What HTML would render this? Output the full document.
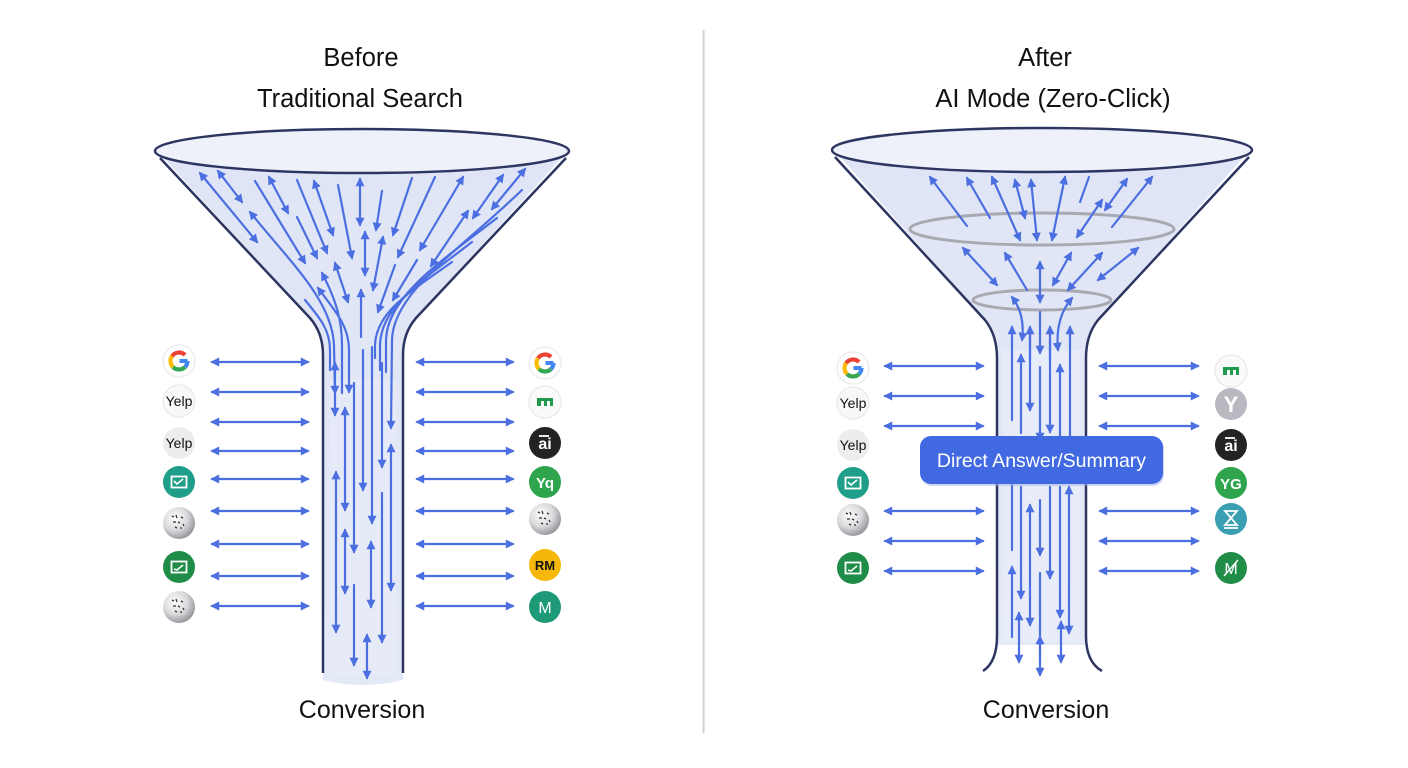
<!DOCTYPE html>
<html><head><meta charset="utf-8">
<style>
html,body{margin:0;padding:0;background:#fff;}
svg{display:block;}
.t{font-family:"Liberation Sans",sans-serif;fill:#111;text-anchor:middle;}
.a{stroke:#4b6fe0;stroke-width:2.2;fill:none;stroke-linecap:round;}
.d{marker-start:url(#m);marker-end:url(#m);}
.e{marker-end:url(#m);}
.s{marker-start:url(#m);}
.fw{stroke:#2d3561;stroke-width:2.5;fill:none;}
</style></head><body>
<svg width="1408" height="768" viewBox="0 0 1408 768" xmlns="http://www.w3.org/2000/svg">
<defs>
<marker id="m" viewBox="0 0 10 10" refX="8" refY="5" markerWidth="10" markerHeight="9" markerUnits="userSpaceOnUse" orient="auto-start-reverse"><path d="M0,0 L10,5 L0,10 z" fill="#4b6fe0"/></marker>
<linearGradient id="fg" x1="0" y1="0" x2="0" y2="1"><stop offset="0" stop-color="#dfe5f6"/><stop offset="1" stop-color="#e4e9f7"/></linearGradient>
<radialGradient id="ws" cx="0.38" cy="0.35" r="0.7"><stop offset="0" stop-color="#ffffff"/><stop offset="0.55" stop-color="#d9d9dc"/><stop offset="1" stop-color="#8e8e94"/></radialGradient>
<g id="gg">
<circle r="16" fill="#fff" stroke="#eeeeee" stroke-width="1.5"/>
<path d="M0.5,0 H8.5" stroke="#4285f4" stroke-width="4" fill="none"/>
<path d="M8.5,0 A8.5,8.5 0 0 1 6.01,6.01" stroke="#4285f4" stroke-width="4.2" fill="none"/>
<path d="M6.01,6.01 A8.5,8.5 0 0 1 -6.01,6.01" stroke="#34a853" stroke-width="4.2" fill="none"/>
<path d="M-6.01,6.01 A8.5,8.5 0 0 1 -6.96,-4.88" stroke="#fbbc05" stroke-width="4.2" fill="none"/>
<path d="M-6.96,-4.88 A8.5,8.5 0 0 1 6.01,-6.01" stroke="#ea4335" stroke-width="4.2" fill="none"/>
</g>
<g id="wk">
<circle r="16" fill="url(#ws)"/>
<path d="M-7,-7 l2,1 M-3,-8 l1,3 M2,-6 l2,1 M-6,-1 l3,0 M-1,-1 l2,1 M4,1 l1,2 M-4,4 l2,1 M1,5 l2,0" stroke="#333" stroke-width="1.3" fill="none"/>
</g>
<g id="yw"><circle r="16" fill="#f8f8f8" stroke="#ececec" stroke-width="1.5"/><text y="5" class="t" style="font-size:14px;fill:#111">Yelp</text></g>
<g id="yg"><circle r="16" fill="#ededed"/><text y="5" class="t" style="font-size:14px;fill:#111">Yelp</text></g>
<g id="tl"><circle r="16" fill="#1f9e89"/><rect x="-7.5" y="-5.5" width="15" height="11" fill="none" stroke="#fff" stroke-width="1.8"/><path d="M-5,-1 l3,3 l6,-5" stroke="#fff" stroke-width="1.6" fill="none"/></g>
<g id="gr"><circle r="16" fill="#1f8c48"/><rect x="-7.5" y="-5.5" width="15" height="11" fill="none" stroke="#fff" stroke-width="1.8"/><path d="M-5,2 l3,1 l6,-5" stroke="#fff" stroke-width="1.6" fill="none"/></g>
<g id="gm"><circle r="16" fill="#fafafa" stroke="#ececec" stroke-width="1.5"/><path d="M-8,-4 h16 v8 h-3 v-5 h-3 v5 h-3 v-5 h-3 v5 h-4 z" fill="#1e9a4a"/></g>
<g id="dk"><circle r="16" fill="#232323"/><text y="6" class="t" style="font-size:16px;font-weight:bold;fill:#fff">ai</text><path d="M-6,-7 h10" stroke="#fff" stroke-width="1.8"/></g>
<g id="yq"><circle r="16" fill="#2ea54d"/><text y="6" class="t" style="font-size:15px;font-weight:bold;fill:#fff">Yq</text></g>
</defs>

<!-- divider -->
<line x1="703.5" y1="30" x2="703.5" y2="733" stroke="#cfd3da" stroke-width="2"/>

<!-- titles -->
<text x="361" y="66" class="t" style="font-size:25.5px">Before</text>
<text x="360" y="107" class="t" style="font-size:25.5px">Traditional Search</text>
<text x="1045" y="66" class="t" style="font-size:25.5px">After</text>
<text x="1053" y="107" class="t" style="font-size:25.5px">AI Mode (Zero-Click)</text>
<text x="362" y="718" class="t" style="font-size:25px">Conversion</text>
<text x="1046" y="718" class="t" style="font-size:25px">Conversion</text>

<!-- LEFT FUNNEL -->
<path d="M158,152 L310,318 Q323,333 323,355 L323,680 Q363,690 403,680 L403,355 Q403,333 416,318 L567,152 Z" fill="url(#fg)"/>
<rect x="330" y="380" width="66" height="295" fill="#e9edf9" opacity="0.6"/>
<ellipse cx="362" cy="151" rx="207" ry="22" class="fw" style="fill:#eef1fa"/>
<path class="fw" d="M160,158 L310,318 Q323,333 323,355 L323,673"/>
<path class="fw" d="M566,158 L416,318 Q403,333 403,355 L403,673"/>

<!-- left cone arrows -->
<line class="a d" x1="200" y1="173" x2="257" y2="242"/>
<line class="a d" x1="218" y1="171" x2="242" y2="202"/>
<line class="a e" x1="255" y1="181" x2="305" y2="263"/>
<line class="a d" x1="269" y1="177" x2="288" y2="213"/>
<line class="a e" x1="297" y1="180" x2="327" y2="253"/>
<line class="a e" x1="297" y1="217" x2="317" y2="258"/>
<line class="a d" x1="314" y1="181" x2="333" y2="235"/>
<line class="a e" x1="338" y1="185" x2="352" y2="258"/>
<line class="a d" x1="360" y1="179" x2="360" y2="225"/>
<line class="a e" x1="382" y1="191" x2="376" y2="230"/>
<line class="a d" x1="365" y1="232" x2="365" y2="275"/>
<line class="a d" x1="383" y1="237" x2="373" y2="290"/>
<line class="a e" x1="412" y1="178" x2="393" y2="235"/>
<line class="a e" x1="435" y1="177" x2="398" y2="257"/>
<line class="a d" x1="463" y1="177" x2="420" y2="250"/>
<line class="a d" x1="503" y1="175" x2="473" y2="218"/>
<line class="a d" x1="525" y1="169" x2="492" y2="209"/>
<line class="a d" x1="468" y1="211" x2="431" y2="266"/>
<line class="a d" x1="335" y1="263" x2="348" y2="302"/>
<line class="a e" x1="417" y1="260" x2="393" y2="300"/>
<line class="a e" x1="395" y1="265" x2="378" y2="312"/>
<line class="a e" x1="361" y1="337" x2="361" y2="290"/>
<!-- left streamlines -->
<path class="a d" d="M250,212 C290,262 332,300 334,345 L335,393"/>
<path class="a s" d="M322,273 C336,300 342,320 342,345 L342,393"/>
<path class="a d" d="M318,288 C336,312 349,326 349,350 L349,392"/>
<path class="a" d="M305,300 C320,318 330,330 330,350 L330,370"/>
<path class="a e" d="M522,190 C460,250 393,292 392,340 L391,428"/>
<path class="a" d="M497,218 C440,262 387,297 386,340 L386,372"/>
<path class="a" d="M472,242 C420,282 381,307 380,345 L380,370"/>
<path class="a" d="M452,262 C410,292 376,312 375,345 L375,358"/>
<!-- left neck arrows -->
<line class="a d" x1="335" y1="363" x2="335" y2="415"/>
<line class="a d" x1="345" y1="408" x2="345" y2="510"/>
<line class="a e" x1="354" y1="383" x2="354" y2="552"/>
<line class="a e" x1="363" y1="350" x2="363" y2="490"/>
<line class="a e" x1="372" y1="347" x2="372" y2="523"/>
<line class="a e" x1="382" y1="363" x2="382" y2="467"/>
<line class="a d" x1="391" y1="445" x2="391" y2="590"/>
<line class="a d" x1="336" y1="472" x2="336" y2="632"/>
<line class="a d" x1="345" y1="530" x2="345" y2="593"/>
<line class="a e" x1="354" y1="585" x2="354" y2="665"/>
<line class="a d" x1="367" y1="635" x2="367" y2="678"/>
<line class="a d" x1="371" y1="542" x2="371" y2="607"/>
<line class="a e" x1="382" y1="493" x2="382" y2="642"/>

<!-- left horizontal arrows -->
<g class="a d">
<line x1="212" y1="362" x2="308" y2="362"/><line x1="417" y1="362" x2="513" y2="362"/>
<line x1="212" y1="392" x2="308" y2="392"/><line x1="417" y1="392" x2="513" y2="392"/>
<line x1="212" y1="422" x2="308" y2="422"/><line x1="417" y1="422" x2="513" y2="422"/>
<line x1="212" y1="451" x2="308" y2="451"/><line x1="417" y1="451" x2="513" y2="451"/>
<line x1="212" y1="479" x2="308" y2="479"/><line x1="417" y1="479" x2="513" y2="479"/>
<line x1="212" y1="511" x2="308" y2="511"/><line x1="417" y1="511" x2="513" y2="511"/>
<line x1="212" y1="544" x2="308" y2="544"/><line x1="417" y1="544" x2="513" y2="544"/>
<line x1="212" y1="576" x2="308" y2="576"/><line x1="417" y1="576" x2="513" y2="576"/>
<line x1="212" y1="606" x2="308" y2="606"/><line x1="417" y1="606" x2="513" y2="606"/>
</g>

<!-- left icons -->
<use href="#gg" x="179" y="361"/>
<use href="#yw" x="179" y="401"/>
<use href="#yg" x="179" y="443"/>
<use href="#tl" x="179" y="482"/>
<use href="#wk" x="179" y="523"/>
<use href="#gr" x="179" y="567"/>
<use href="#wk" x="179" y="607"/>
<!-- right icons (left panel) -->
<use href="#gg" x="545" y="363"/>
<use href="#gm" x="545" y="402"/>
<use href="#dk" x="545" y="443"/>
<use href="#yq" x="545" y="482"/>
<use href="#wk" x="545" y="519"/>
<g transform="translate(545,565)"><circle r="16" fill="#f5b80a"/><text y="5" class="t" style="font-size:13px;font-weight:bold;fill:#111">RM</text></g>
<g transform="translate(545,607)"><circle r="16" fill="#1e9a78"/><text y="6" class="t" style="font-size:16px;fill:#fff">M</text></g>

<!-- RIGHT FUNNEL -->
<path d="M834,150 L985,320 Q997,335 997,358 L997,645 L1086,645 L1086,358 Q1086,335 1098,320 L1250,150 Z" fill="url(#fg)"/>
<rect x="1003" y="350" width="77" height="292" fill="#eaeef9" opacity="0.7"/>
<ellipse cx="1042" cy="150" rx="210" ry="22" class="fw" style="fill:#eef1fa"/>
<path class="fw" d="M835,157 L985,320 Q997,335 997,358 L997,636 Q997,662 983,671"/>
<path class="fw" d="M1249,157 L1098,320 Q1086,335 1086,358 L1086,636 Q1086,662 1102,671"/>
<ellipse cx="1042" cy="229" rx="132" ry="16" fill="none" stroke="#a9a9b2" stroke-width="3"/>
<ellipse cx="1042" cy="300" rx="69" ry="10" fill="none" stroke="#a9a9b2" stroke-width="3"/>

<!-- right cone arrows -->
<line class="a e" x1="967" y1="226" x2="930" y2="177"/>
<line class="a e" x1="990" y1="218" x2="967" y2="178"/>
<line class="a d" x1="1020" y1="240" x2="992" y2="177"/>
<line class="a d" x1="1025" y1="218" x2="1015" y2="180"/>
<line class="a d" x1="1037" y1="240" x2="1031" y2="180"/>
<line class="a d" x1="1052" y1="240" x2="1065" y2="177"/>
<line class="a" x1="1080" y1="202" x2="1089" y2="177"/>
<line class="a d" x1="1105" y1="210" x2="1127" y2="179"/>
<line class="a d" x1="1077" y1="237" x2="1102" y2="200"/>
<line class="a e" x1="1112" y1="227" x2="1152" y2="177"/>
<line class="a d" x1="963" y1="248" x2="997" y2="285"/>
<line class="a e" x1="1027" y1="290" x2="1005" y2="253"/>
<line class="a d" x1="1040" y1="262" x2="1040" y2="302"/>
<line class="a d" x1="1071" y1="253" x2="1053" y2="285"/>
<line class="a d" x1="1102" y1="253" x2="1068" y2="290"/>
<line class="a d" x1="1138" y1="248" x2="1098" y2="280"/>
<path class="a d" d="M1012,297 C1022,310 1024,325 1022,340"/>
<path class="a d" d="M1072,298 C1060,312 1056,330 1058,350"/>
<line class="a e" x1="1040" y1="312" x2="1040" y2="353"/>
<!-- right neck arrows above button -->
<line class="a e" x1="1012" y1="420" x2="1012" y2="327"/>
<line class="a e" x1="1021" y1="433" x2="1021" y2="355"/>
<line class="a e" x1="1030" y1="330" x2="1030" y2="410"/>
<line class="a e" x1="1030" y1="360" x2="1030" y2="327"/>
<line class="a e" x1="1040" y1="367" x2="1040" y2="440"/>
<line class="a e" x1="1050" y1="340" x2="1050" y2="432"/>
<line class="a e" x1="1050" y1="360" x2="1050" y2="327"/>
<line class="a e" x1="1060" y1="440" x2="1060" y2="365"/>
<line class="a e" x1="1070" y1="440" x2="1070" y2="327"/>
<!-- right neck arrows below button -->
<line class="a" x1="1012" y1="484" x2="1012" y2="550"/>
<line class="a e" x1="1021" y1="487" x2="1021" y2="598"/>
<line class="a d" x1="1030" y1="505" x2="1030" y2="625"/>
<line class="a e" x1="1040" y1="500" x2="1040" y2="555"/>
<line class="a e" x1="1050" y1="487" x2="1050" y2="578"/>
<line class="a e" x1="1060" y1="487" x2="1060" y2="617"/>
<line class="a d" x1="1069" y1="487" x2="1069" y2="633"/>
<line class="a e" x1="1012" y1="637" x2="1012" y2="567"/>
<line class="a d" x1="1019" y1="613" x2="1019" y2="662"/>
<line class="a e" x1="1040" y1="573" x2="1040" y2="675"/>
<line class="a e" x1="1040" y1="660" x2="1040" y2="637"/>
<line class="a d" x1="1061" y1="622" x2="1061" y2="662"/>

<!-- right horizontal arrows -->
<g class="a d">
<line x1="885" y1="366" x2="983" y2="366"/><line x1="1100" y1="366" x2="1198" y2="366"/>
<line x1="885" y1="396" x2="983" y2="396"/><line x1="1100" y1="396" x2="1198" y2="396"/>
<line x1="885" y1="426" x2="983" y2="426"/><line x1="1100" y1="426" x2="1198" y2="426"/>
<line x1="885" y1="511" x2="983" y2="511"/><line x1="1100" y1="511" x2="1198" y2="511"/>
<line x1="885" y1="541" x2="983" y2="541"/><line x1="1100" y1="541" x2="1198" y2="541"/>
<line x1="885" y1="571" x2="983" y2="571"/><line x1="1100" y1="571" x2="1198" y2="571"/>
</g>

<!-- button -->
<rect x="921" y="438" width="243" height="48" rx="11" fill="#9fb2ea" opacity="0.5"/>
<rect x="920" y="436" width="243" height="48" rx="11" fill="#4169e1"/>
<text x="1041.5" y="467" class="t" style="font-size:19.5px;fill:#fff">Direct Answer/Summary</text>

<!-- right panel left icons -->
<use href="#gg" x="853" y="368"/>
<use href="#yw" x="853" y="403"/>
<use href="#yg" x="853" y="445"/>
<use href="#tl" x="853" y="483"/>
<use href="#wk" x="853" y="520"/>
<use href="#gr" x="853" y="568"/>
<!-- right panel right icons -->
<use href="#gm" x="1231" y="371"/>
<g transform="translate(1231,404)"><circle r="16" fill="#b9b9c1"/><text y="8" class="t" style="font-size:22px;font-weight:bold;fill:#fff">Y</text></g>
<use href="#dk" x="1231" y="445"/>
<g transform="translate(1231,483)"><circle r="16" fill="#2ea54d"/><text y="6" class="t" style="font-size:15px;font-weight:bold;fill:#fff">YG</text></g>
<g transform="translate(1231,519)"><circle r="16" fill="#3a9fb3"/><path d="M-6,-8 L6,-8 L-6,6 L6,6 Z M-7,9 h14" stroke="#fff" stroke-width="1.8" fill="none"/></g>
<g transform="translate(1231,568)"><circle r="16" fill="#1f8c48"/><text y="6" class="t" style="font-size:16px;fill:#fff">M</text><path d="M-7,8 L7,-8" stroke="#fff" stroke-width="1.4"/></g>
</svg>
</body></html>
